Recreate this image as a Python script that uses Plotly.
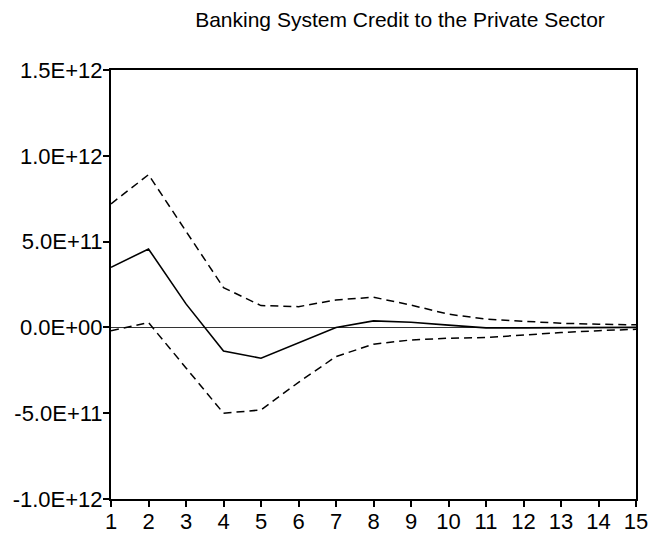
import plotly.graph_objects as go

# Impulse response horizon (periods)
periods = list(range(1, 16))

# Response of banking system credit and its +/- 2 S.E. bands
response = [3.5e11, 4.57e11, 1.37e11, -1.37e11, -1.80e11, -0.89e11, 0.0, 0.38e11,
            0.30e11, 0.13e11, -0.03e11, -0.03e11, -0.02e11, -0.01e11, 0.0]
upper = [7.2e11, 8.9e11, 5.6e11, 2.32e11, 1.27e11, 1.21e11, 1.60e11, 1.76e11,
         1.30e11, 0.77e11, 0.48e11, 0.34e11, 0.24e11, 0.19e11, 0.15e11]
lower = [-0.19e11, 0.28e11, -2.36e11, -5.00e11, -4.81e11, -3.20e11, -1.70e11, -0.98e11,
         -0.73e11, -0.63e11, -0.59e11, -0.44e11, -0.30e11, -0.19e11, -0.11e11]

# Axis ticks
y_tick_vals = [-1.0e12, -5.0e11, 0.0, 5.0e11, 1.0e12, 1.5e12]
y_tick_text = ["-1.0E+12", "-5.0E+11", "0.0E+00", "5.0E+11", "1.0E+12", "1.5E+12"]
x_tick_vals = periods
x_tick_text = [str(p) for p in periods]

title_text = "Banking System Credit to the Private Sector"

fig = go.Figure()
fig.add_trace(go.Scatter(x=periods, y=upper, mode="lines",
                         line=dict(color="black", width=1.5, dash="8px,5px"),
                         hoverinfo="skip"))
fig.add_trace(go.Scatter(x=periods, y=lower, mode="lines",
                         line=dict(color="black", width=1.5, dash="8px,5px"),
                         hoverinfo="skip"))
fig.add_trace(go.Scatter(x=periods, y=response, mode="lines",
                         line=dict(color="black", width=1.6)))

font = dict(family="Liberation Sans, Arial, sans-serif", size=22, color="black")
title_font = dict(family="Liberation Sans, Arial, sans-serif", size=21, color="black")

fig.update_layout(
    width=656, height=539,
    margin=dict(l=111, r=20, t=70, b=40, autoexpand=False),
    paper_bgcolor="white", plot_bgcolor="white",
    showlegend=False,
    font=font,
    title=dict(text=title_text, x=400 / 656, xref="container", xanchor="center",
               y=1 - 20 / 539, yref="container", yanchor="middle",
               font=title_font),
)
fig.update_xaxes(
    range=[1, 15], tickvals=x_tick_vals, ticktext=x_tick_text,
    showgrid=False, zeroline=False,
    showline=True, linecolor="black", linewidth=2, mirror=True,
    ticks="outside", ticklen=6, tickwidth=1.5, tickcolor="black",
    tickfont=font, ticklabelstandoff=-4,
)
fig.update_yaxes(
    range=[-1.0e12, 1.5e12], tickvals=y_tick_vals, ticktext=y_tick_text,
    showgrid=False,
    zeroline=True, zerolinecolor="#333333", zerolinewidth=1,
    showline=True, linecolor="black", linewidth=2, mirror=True,
    ticks="outside", ticklen=6, tickwidth=1.5, tickcolor="black",
    tickfont=font, ticklabelstandoff=-4,
)

fig.write_html("out.html")
